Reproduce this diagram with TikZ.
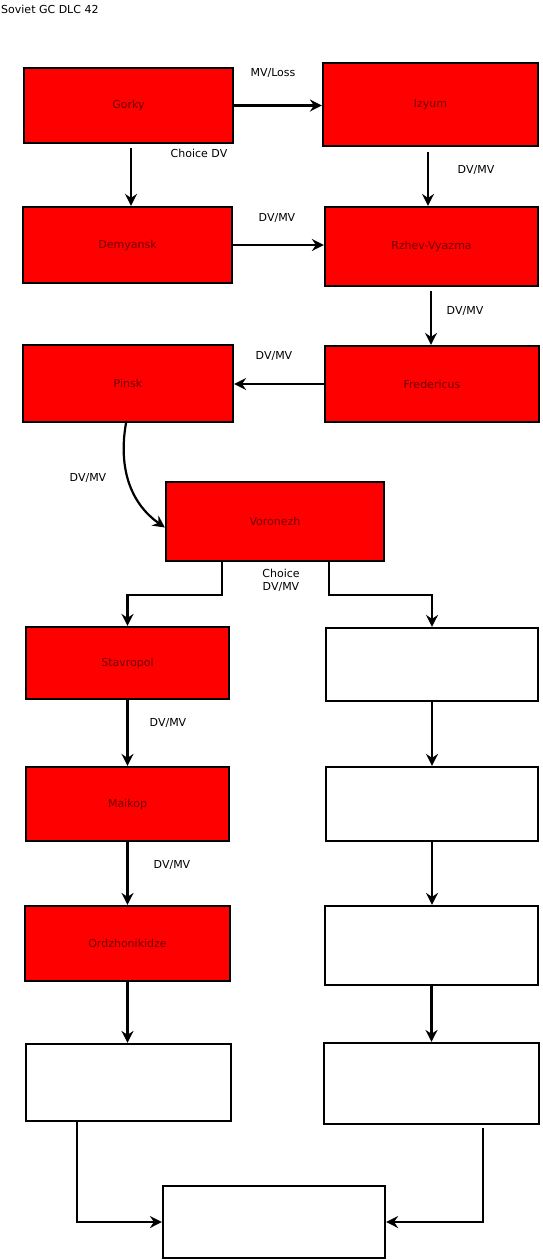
\documentclass[tikz,border=0pt]{standalone}
\usepackage{fontspec}
\setmainfont{DejaVu Sans}
\usetikzlibrary{arrows.meta}
\definecolor{boxred}{RGB}{255,0,0}
\definecolor{txtred}{RGB}{110,0,0}
\tikzset{
  redbox/.style={draw=black, line width=2.2pt, fill=boxred, text=txtred, inner sep=0pt, font=\fontsize{11}{13}\selectfont},
  whitebox/.style={draw=black, line width=2.2pt, fill=white, inner sep=0pt},
  lbl/.style={inner sep=0pt, font=\fontsize{11}{13}\selectfont, align=center},
  arr/.style={line width=2.2pt, -{Stealth[length=12pt,width=12pt,inset=4pt]}}
}
\begin{document}
\begin{tikzpicture}[x=1pt,y=-1pt]
\useasboundingbox (0,0) rectangle (542,1260);
\node[lbl, anchor=west] (title) at (1,9) {Soviet GC DLC 42};

\node[redbox, minimum width=209pt, minimum height=75pt] (gorky) at (128.5,105.5) {Gorky};
\node[redbox, minimum width=215pt, minimum height=83pt] (izyum) at (430.5,104.5) {Izyum};
\node[redbox, minimum width=209pt, minimum height=76pt] (demyansk) at (127.5,245) {Demyansk};
\node[redbox, minimum width=213pt, minimum height=79pt] (rzhev) at (431.5,246.5) {Rzhev-Vyazma};
\node[redbox, minimum width=210pt, minimum height=77pt] (pinsk) at (128,383.5) {Pinsk};
\node[redbox, minimum width=214pt, minimum height=76pt] (fred) at (432,384) {Fredericus};
\node[redbox, minimum width=218pt, minimum height=79pt] (voronezh) at (275,521.5) {Voronezh};
\node[redbox, minimum width=203pt, minimum height=72pt] (stavropol) at (127.5,663) {Stavropol};
\node[whitebox, minimum width=212pt, minimum height=73pt] (r1) at (432,664.5) {};
\node[redbox, minimum width=203pt, minimum height=74pt] (maikop) at (127.5,804) {Maikop};
\node[whitebox, minimum width=212pt, minimum height=74pt] (r2) at (432,804) {};
\node[redbox, minimum width=205pt, minimum height=75pt] (ordz) at (127.5,943.5) {Ordzhonikidze};
\node[whitebox, minimum width=213pt, minimum height=79pt] (r3) at (431.5,945.5) {};
\node[whitebox, minimum width=205pt, minimum height=77pt] (l4) at (128.5,1082.5) {};
\node[whitebox, minimum width=215pt, minimum height=81pt] (r4) at (431.5,1083.5) {};
\node[whitebox, minimum width=222pt, minimum height=72pt] (final) at (274,1222) {};

% labels
\node[lbl] (l1) at (273,73) {MV/Loss};
\node[lbl] (l2) at (199,153) {Choice DV};
\node[lbl] (l3) at (476,170) {DV/MV};
\node[lbl] (l4lab) at (277,218) {DV/MV};
\node[lbl] (l5) at (465,311) {DV/MV};
\node[lbl] (l6) at (274,356) {DV/MV};
\node[lbl] (l7) at (88,478) {DV/MV};
\node[lbl] (l8) at (281,580.5) {Choice\\DV/MV};
\node[lbl] (l9) at (168,723) {DV/MV};
\node[lbl] (l10) at (172,865) {DV/MV};

% connectors
\draw[arr] (gorky.east) -- (izyum.west |- gorky.east);
\draw[arr] ([xshift=2.5pt,yshift=-4pt]gorky.south) -- ([xshift=3.5pt]demyansk.north);
\draw[arr] ([xshift=-2.5pt,yshift=-5pt]izyum.south) -- ([xshift=-3.5pt]rzhev.north);
\draw[arr] (demyansk.east) -- (rzhev.west |- demyansk.east);
\draw[arr] ([xshift=-0.5pt,yshift=-4pt]rzhev.south) -- ([xshift=-1pt]fred.north);
\draw[arr] (fred.west) -- (pinsk.east |- fred.west);
\draw[arr] ([xshift=-2pt]pinsk.south) to[out=-100,in=145] ([yshift=-6pt]voronezh.west);
\draw[arr] ([xshift=-53pt]voronezh.south) -- ++(0,33) -| (stavropol.north);
\draw[arr] ([xshift=54pt]voronezh.south) -- ++(0,33) -| (r1.north);
\draw[arr] (stavropol.south) -- (maikop.north);
\draw[arr] (r1.south) -- (r2.north);
\draw[arr] (maikop.south) -- (ordz.north);
\draw[arr] (r2.south) -- (r3.north -| r2.south);
\draw[arr] (ordz.south) -- (l4.north -| ordz.south);
\draw[arr] (r3.south) -- (r4.north -| r3.south);
\draw[arr] ([xshift=-51.5pt]l4.south) |- (final.west);
\draw[arr] ([xshift=51.5pt,yshift=-3pt]r4.south) |- (final.east);
\end{tikzpicture}
\end{document}
